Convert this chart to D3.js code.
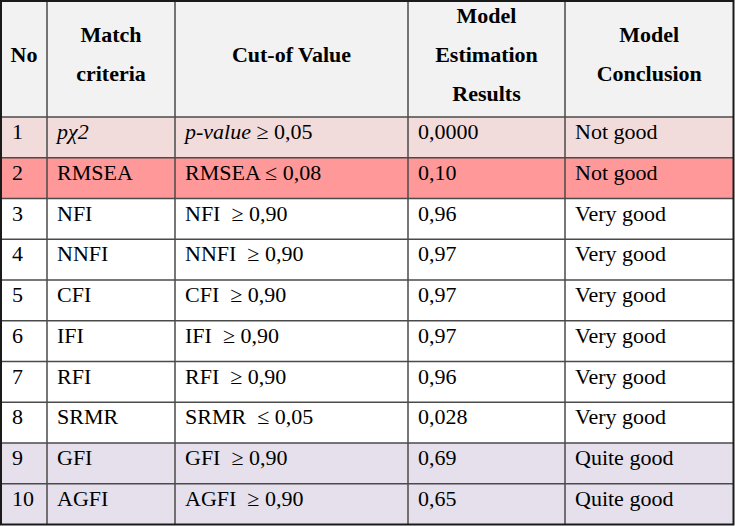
<!DOCTYPE html>
<html><head><meta charset="utf-8">
<script src="https://cdn.jsdelivr.net/npm/d3@7"></script>
<style>body{margin:0;background:#fff}svg{display:block}text{font-family:"Liberation Serif","Times New Roman",serif;white-space:pre}</style>
</head><body><div id="chart"></div>
<script>
// ---- data ----
const headers = [["No"], ["Match", "criteria"], ["Cut-of Value"], ["Model", "Estimation", "Results"], ["Model", "Conclusion"]];
const nos = ["1","2","3","4","5","6","7","8","9","10"];
const criteria = ["pχ2","RMSEA","NFI","NNFI","CFI","IFI","RFI","SRMR","GFI","AGFI"];
const cutoffItalic = ["p-value","","","","","","","","",""];
const cutoffs = [" ≥ 0,05","RMSEA ≤ 0,08","NFI  ≥ 0,90","NNFI  ≥ 0,90","CFI  ≥ 0,90","IFI  ≥ 0,90","RFI  ≥ 0,90","SRMR  ≤ 0,05","GFI  ≥ 0,90","AGFI  ≥ 0,90"];
const results = ["0,0000","0,10","0,96","0,97","0,97","0,97","0,96","0,028","0,69","0,65"];
const conclusions = ["Not good","Not good","Very good","Very good","Very good","Very good","Very good","Very good","Quite good","Quite good"];
const rowGroup = ["chi","rmsea","ok","ok","ok","ok","ok","ok","quite","quite"];

// ---- layout ----
const W = 735, H = 526;
const colEdges = [1, 47, 175, 408, 565, 733.5];
const headerTop = 1, headerBottom = 117, tableBottom = 524.5;
const fontSize = 22, pad = 10;
const fillColor = d3.scaleOrdinal().domain(["chi","rmsea","ok","quite"]).range(["#f2dcdb","#ff9999","#ffffff","#e5e0ec"]);

const svg = d3.select("#chart").append("svg").attr("width", W).attr("height", H);
const y = d3.scaleBand().domain(d3.range(nos.length)).range([headerBottom, tableBottom]).paddingInner(0).paddingOuter(0);

// header background
svg.append("rect").attr("x", colEdges[0]).attr("y", headerTop).attr("width", colEdges[5]-colEdges[0]).attr("height", headerBottom-headerTop).attr("fill", "#f2f2f2");
// row backgrounds
svg.selectAll("rect.row").data(nos).join("rect").attr("class","row")
  .attr("x", colEdges[0]).attr("y", (d,i)=>y(i)).attr("width", colEdges[5]-colEdges[0]).attr("height", y.bandwidth())
  .attr("fill", (d,i)=>fillColor(rowGroup[i]));

// header text
const lineH = 38.7, headerMid = 61.8;
headers.forEach((lines, c) => {
  const cx = (colEdges[c] + colEdges[c+1]) / 2;
  const first = headerMid - (lines.length - 1) * lineH / 2;
  lines.forEach((t, k) => {
    svg.append("text").attr("x", cx).attr("y", first + k*lineH).attr("text-anchor","middle")
      .attr("font-weight","bold").attr("font-size", fontSize).attr("fill","#000").text(t);
  });
});

// body text
const cols = [nos, criteria, cutoffs, results, conclusions];
const base = 22;
cols.forEach((arr, c) => {
  const g = svg.append("g");
  arr.forEach((t, i) => {
    const tx = g.append("text").attr("x", colEdges[c] + pad + (c===0?1:0)).attr("y", y(i) + base)
      .attr("font-size", fontSize).attr("fill", "#000");
    if (c === 1 && i === 0) { tx.attr("font-style","italic").text(t); }
    else if (c === 2 && cutoffItalic[i]) {
      tx.append("tspan").attr("font-style","italic").text(cutoffItalic[i]);
      tx.append("tspan").text(t);
    } else tx.text(t);
  });
});

// grid lines
const gridColor = "#4a4a4a";
svg.append("g").selectAll("line").data(colEdges.slice(1,5)).join("line")
  .attr("x1", d=>d).attr("x2", d=>d).attr("y1", headerTop).attr("y2", tableBottom)
  .attr("stroke", gridColor).attr("stroke-width", 1.5);
svg.append("g").selectAll("line").data(d3.range(nos.length)).join("line")
  .attr("x1", colEdges[0]).attr("x2", colEdges[5]).attr("y1", i=>y(i)).attr("y2", i=>y(i))
  .attr("stroke", gridColor).attr("stroke-width", 1.5);
// outer frame
svg.append("rect").attr("x", colEdges[0]).attr("y", headerTop).attr("width", colEdges[5]-colEdges[0]).attr("height", tableBottom-headerTop)
  .attr("fill","none").attr("stroke","#1a1a1a").attr("stroke-width", 2);
</script></body></html>
